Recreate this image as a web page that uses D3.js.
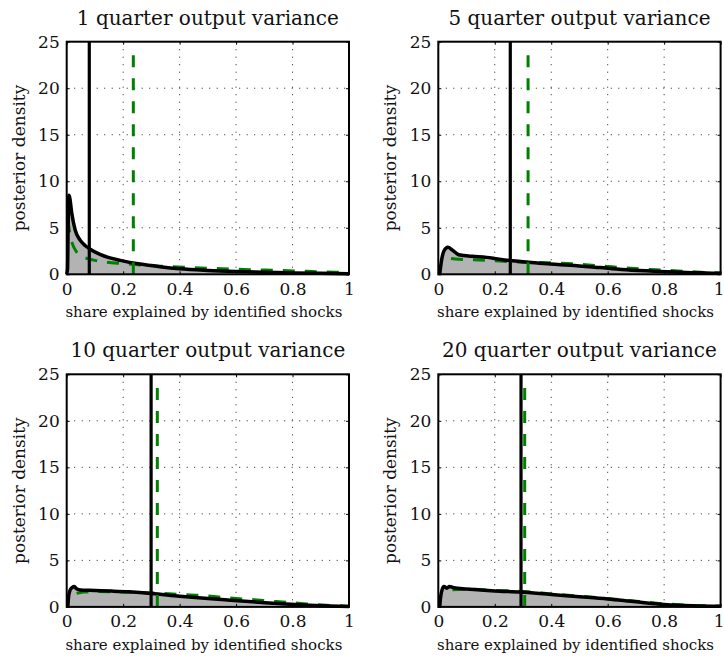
<!DOCTYPE html>
<html>
<head>
<meta charset="utf-8">
<script src="https://cdn.jsdelivr.net/npm/d3@7"></script>
<style>
  html, body { margin: 0; padding: 0; background: #fff; }
  svg { display: block; }
  text { font-family: "DejaVu Serif", "Liberation Serif", serif; fill: #111; }
</style>
</head>
<body>
<svg id="chart" width="724" height="663"></svg>
<script>
// Panel titles (forecast horizons)
const titles = [
  "1 quarter output variance",
  "5 quarter output variance",
  "10 quarter output variance",
  "20 quarter output variance"
];

const xTickValues = [0, 0.2, 0.4, 0.6, 0.8, 1];
const yTickValues = [0, 5, 10, 15, 20, 25];
const xLabel = "share explained by identified shocks";
const yLabel = "posterior density";

// Solid black density (shaded underneath), one per horizon: [share, density]
const solidDensity1 = [
  [0.0, 0], [0.003, 0.6], [0.005, 5.0], [0.008, 8.5], [0.011, 8.2], [0.018, 6.55],
  [0.03, 4.76], [0.047, 3.7], [0.065, 3.1], [0.083, 2.7], [0.118, 2.15], [0.15, 1.8],
  [0.19, 1.5], [0.26, 1.1], [0.33, 0.82], [0.4, 0.6], [0.5, 0.42], [0.6, 0.3],
  [0.7, 0.21], [0.8, 0.15], [0.9, 0.1], [1.0, 0.06]
];
const solidDensity2 = [
  [0.005, 0], [0.012, 1.6], [0.02, 2.5], [0.034, 2.9], [0.05, 2.6], [0.072, 2.1],
  [0.089, 2.02], [0.12, 1.93], [0.171, 1.82], [0.21, 1.65], [0.254, 1.48], [0.32, 1.3],
  [0.396, 1.1], [0.467, 0.98], [0.573, 0.72], [0.65, 0.52], [0.75, 0.35], [0.857, 0.21],
  [0.927, 0.16], [1.0, 0.1]
];
const solidDensity3 = [
  [0.004, 0], [0.007, 1.2], [0.012, 1.8], [0.02, 2.1], [0.027, 2.2], [0.035, 1.95],
  [0.05, 1.82], [0.08, 1.78], [0.16, 1.7], [0.22, 1.62], [0.3, 1.45], [0.4, 1.15],
  [0.5, 0.9], [0.58, 0.72], [0.68, 0.5], [0.76, 0.33], [0.86, 0.17], [0.93, 0.09],
  [1.0, 0.05]
];
const solidDensity4 = [
  [0.005, 0], [0.008, 1.0], [0.013, 1.8], [0.02, 2.2], [0.03, 2.0], [0.04, 2.2],
  [0.055, 2.05], [0.1, 1.93], [0.2, 1.72], [0.29, 1.6], [0.4, 1.33], [0.5, 1.1],
  [0.6, 0.86], [0.7, 0.55], [0.8, 0.27], [0.9, 0.12], [1.0, 0.06]
];

// Green dashed density, one per horizon: [share, density]
const dashedDensity1 = [
  [0.005, 5.8], [0.012, 4.2], [0.02, 3.3], [0.035, 2.4], [0.055, 1.9], [0.08, 1.65],
  [0.1, 1.5], [0.14, 1.3], [0.2, 1.15], [0.26, 1.0], [0.35, 0.85], [0.45, 0.72],
  [0.55, 0.6], [0.65, 0.5], [0.75, 0.42], [0.85, 0.32], [0.95, 0.22], [1.0, 0.18]
];
const dashedDensity2 = [
  [0.045, 1.7], [0.06, 1.64], [0.144, 1.54], [0.23, 1.4], [0.335, 1.27], [0.39, 1.25],
  [0.49, 1.1], [0.56, 0.93], [0.64, 0.75], [0.72, 0.57], [0.81, 0.43], [0.89, 0.28],
  [0.97, 0.17], [1.0, 0.15]
];
const dashedDensity3 = [
  [0.035, 1.45], [0.06, 1.6], [0.1, 1.65], [0.2, 1.6], [0.3, 1.5], [0.4, 1.35],
  [0.47, 1.25], [0.56, 1.0], [0.65, 0.8], [0.74, 0.58], [0.83, 0.37], [0.92, 0.18],
  [1.0, 0.08]
];
const dashedDensity4 = [
  [0.05, 1.85], [0.1, 1.9], [0.2, 1.78], [0.3, 1.65], [0.4, 1.4], [0.5, 1.15],
  [0.6, 0.9], [0.7, 0.62], [0.8, 0.33], [0.9, 0.16], [1.0, 0.08]
];

// Median markers (vertical lines)
const solidMedians = [0.08, 0.255, 0.299, 0.293];
const dashedMedians = [0.236, 0.318, 0.321, 0.306];
const dashedMedianTop = 24;

const solidSeries = [solidDensity1, solidDensity2, solidDensity3, solidDensity4];
const dashedSeries = [dashedDensity1, dashedDensity2, dashedDensity3, dashedDensity4];

// Layout of the 2x2 grid of axes
const panelOrigins = [[66.7, 41.7], [438.3, 41.7], [66.7, 374.3], [438.3, 374.3]];
const plotW = 282.3, plotH = 232.6;

const svg = d3.select("#chart");
const green = "#008000";
const shade = "#b3b3b3";

titles.forEach((title, i) => {
  const [ox, oy] = panelOrigins[i];
  const g = svg.append("g").attr("transform", `translate(${ox},${oy})`);
  const x = d3.scaleLinear().domain([0, 1]).range([0, plotW]);
  const y = d3.scaleLinear().domain([0, 25]).range([plotH, 0]);

  // dotted grid
  const grid = g.append("g").attr("stroke", "#222").attr("stroke-width", 1)
    .attr("stroke-dasharray", "1,6.5");
  grid.selectAll("line.vx").data(xTickValues.slice(1, -1)).join("line")
    .attr("x1", d => x(d)).attr("x2", d => x(d)).attr("y1", 0).attr("y2", plotH);
  grid.selectAll("line.hy").data(yTickValues.slice(1, -1)).join("line")
    .attr("x1", 0).attr("x2", plotW).attr("y1", d => y(d)).attr("y2", d => y(d));

  const curve = d3.curveMonotoneX;
  const solid = solidSeries[i];

  // shaded area under the solid density
  g.append("path").datum(solid)
    .attr("fill", shade)
    .attr("d", d3.area().x(d => x(d[0])).y0(y(0)).y1(d => y(d[1])).curve(curve));

  // dashed density
  g.append("path").datum(dashedSeries[i])
    .attr("fill", "none").attr("stroke", green).attr("stroke-width", 3)
    .attr("stroke-dasharray", "12,10")
    .attr("d", d3.line().x(d => x(d[0])).y(d => y(d[1])).curve(curve));

  // solid density
  g.append("path").datum(solid)
    .attr("fill", "none").attr("stroke", "#000").attr("stroke-width", 3.5)
    .attr("stroke-linejoin", "round")
    .attr("d", d3.line().x(d => x(d[0])).y(d => y(d[1])).curve(curve));

  // median lines
  g.append("line")
    .attr("x1", x(solidMedians[i])).attr("x2", x(solidMedians[i]))
    .attr("y1", y(0)).attr("y2", y(25))
    .attr("stroke", "#000").attr("stroke-width", 3.2);
  g.append("line")
    .attr("x1", x(dashedMedians[i])).attr("x2", x(dashedMedians[i]))
    .attr("y1", y(0)).attr("y2", y(dashedMedianTop))
    .attr("stroke", green).attr("stroke-width", 3)
    .attr("stroke-dasharray", "12,11");

  // axes with inward ticks, plus mirrored ticks on top/right
  const xAxis = d3.axisBottom(x).tickValues(xTickValues).tickSize(-3).tickPadding(8)
    .tickFormat(d3.format("~g"));
  const yAxis = d3.axisLeft(y).tickValues(yTickValues).tickSize(-3).tickPadding(7);
  const gx = g.append("g").attr("transform", `translate(0,${plotH})`).call(xAxis);
  const gy = g.append("g").call(yAxis);
  g.append("g").call(d3.axisTop(x).tickValues(xTickValues).tickSize(-3).tickFormat(""));
  g.append("g").attr("transform", `translate(${plotW},0)`)
    .call(d3.axisRight(y).tickValues(yTickValues).tickSize(-3).tickFormat(""));
  g.selectAll(".domain").remove();
  g.selectAll(".tick line").attr("stroke", "#000").attr("stroke-width", 1);
  [gx, gy].forEach(a => a.selectAll("text")
    .attr("font-family", "DejaVu Serif, serif").attr("font-size", 17).attr("fill", "#111"));
  gx.selectAll("text").attr("dy", "0.72em");
  // keep the rightmost "1" inside the page on the right-hand column
  if (ox + plotW > 700) {
    gx.selectAll(".tick").filter(d => d === 1).select("text").attr("dx", -2);
  }

  // axes box
  g.append("rect").attr("width", plotW).attr("height", plotH)
    .attr("fill", "none").attr("stroke", "#000").attr("stroke-width", 2);

  // labels
  g.append("text").attr("x", plotW / 2).attr("y", -17)
    .attr("text-anchor", "middle").attr("font-size", 20).text(title);
  g.append("text").attr("x", plotW / 2 - 4).attr("y", plotH + 43)
    .attr("text-anchor", "middle").attr("font-size", 15).text(xLabel);
  g.append("text")
    .attr("transform", `translate(-42,${plotH / 2}) rotate(-90)`)
    .attr("text-anchor", "middle").attr("font-size", 17).text(yLabel);
});
</script>
</body>
</html>
